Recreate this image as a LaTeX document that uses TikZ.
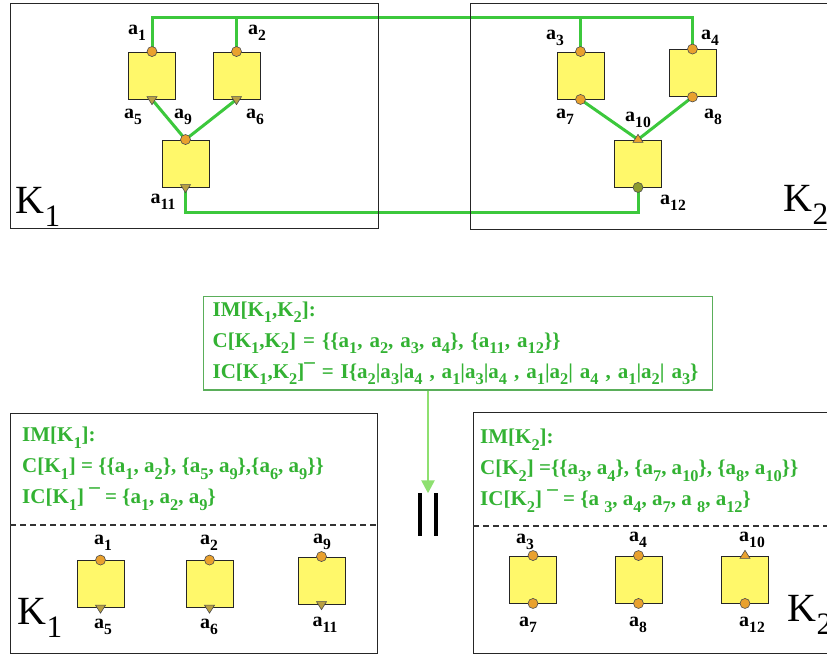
\documentclass[tikz,border=0pt]{standalone}
\usepackage{graphicx}
\usepackage{fontspec}
\setmainfont{Liberation Serif}
\usepackage{tikz}
\usetikzlibrary{shapes.geometric, arrows.meta, positioning, calc, backgrounds}
\definecolor{wiregreen}{HTML}{3CC83C}
\definecolor{textgreen}{HTML}{33B233}
\definecolor{boxgreen}{HTML}{5AAE5A}
\definecolor{arrowgreen}{HTML}{8EE070}
\definecolor{compyellow}{HTML}{FFF86A}
\definecolor{portorange}{HTML}{E9A12E}
\definecolor{portolive}{HTML}{B9A043}
\definecolor{portgreen}{HTML}{8C9C2E}
\newcommand{\sbs}[1]{\raisebox{-0.32em}{\scalebox{0.78}{#1}}}
\newcommand{\av}[1]{a\sbs{#1}}

\begin{document}
\begin{tikzpicture}[x=1pt, y=-1pt,
    frame/.style={
        draw=black!85,
        line width=1.3pt,
        inner sep=0pt,
        anchor=north west
    },
    comp/.style={
        draw=black!85,
        fill=compyellow,
        line width=0.9pt,
        minimum width=47pt,
        minimum height=47pt,
        inner sep=0pt
    },
    port/.style={
        circle,
        draw=black!70,
        fill=portorange,
        line width=0.6pt,
        minimum size=10pt,
        inner sep=0pt
    },
    portdown/.style={
        isosceles triangle,
        isosceles triangle stretches,
        shape border rotate=-90,
        draw=black!70,
        fill=portolive,
        line width=0.6pt,
        minimum width=10pt,
        minimum height=8pt,
        inner sep=0pt
    },
    portup/.style={
        portdown,
        shape border rotate=90,
        fill=portorange
    },
    wire/.style={wiregreen, line width=3pt},
    cut/.style={black!80, line width=1.2pt, dash pattern=on 6pt off 4pt},
    lab/.style={font=\fontsize{20}{20}\selectfont\bfseries, inner sep=0pt},
    klab/.style={font=\fontsize{40}{40}\selectfont, inner sep=0pt},
    info/.style={
        text=textgreen,
        font=\fontsize{21}{31}\selectfont\bfseries,
        align=left,
        inner sep=0pt,
        anchor=north west
    },
    flow/.style={arrowgreen, line width=2.5pt, -{Triangle[width=13pt,length=13pt]}},
    bar/.style={black, line width=3.5pt}
]
\useasboundingbox (0,0) rectangle (827,655);

% Top: the two clusters
\node[frame, minimum width=368pt, minimum height=225pt] (K1top) at (10,3) {};
\node[frame, minimum width=362pt, minimum height=226pt] (K2top) at (470,3) {};
\coordinate (busT) at (0,18);
\coordinate (busB) at (0,213);

\node[comp] (A1) at (152,75.5) {};
\node[comp] (A2) at (236.5,75.5) {};
\node[comp] (A3) at (185.5,163.5) {};
\node[comp] (B1) at (580.5,75.5) {};
\node[comp] (B2) at (692.5,73) {};
\node[comp] (B3) at (638,163.5) {};

\node[port] (p1) at (A1.north) {};
\node[portdown] (p5) at (A1.south) {};
\node[port] (p2) at (A2.north) {};
\node[portdown] (p6) at (A2.south) {};
\node[port] (p9) at (A3.north) {};
\node[portdown] (p11) at (A3.south) {};
\node[port] (p3) at (B1.north) {};
\node[port] (p7) at (B1.south) {};
\node[port] (p4) at (B2.north) {};
\node[port] (p8) at (B2.south) {};
\node[portup] (p10) at (B3.north) {};
\node[port, fill=portgreen] (p12) at (B3.south) {};

\begin{scope}[on background layer]
\draw[wire] (p1.center) -- (p1.center |- busT) -- (p4.center |- busT) -- (p4.center);
\draw[wire] (p2.center) -- (p2.center |- busT);
\draw[wire] (p3.center) -- (p3.center |- busT);
\draw[wire] (p5.center) -- (p9.center) -- (p6.center);
\draw[wire] (p7.center) -- (p10.center) -- (p8.center);
\draw[wire] (p11.center) -- (p11.center |- busB) -- (p12.center |- busB) -- (p12.center);
\end{scope}

\node[lab] (l1) at (137,33) {\av{1}};
\node[lab] (l2) at (257,33) {\av{2}};
\node[lab] (l5) at (133,117) {\av{5}};
\node[lab] (l9) at (183,117) {\av{9}};
\node[lab] (l6) at (255,117) {\av{6}};
\node[lab] (l11) at (163,202) {\av{11}};
\node[lab] (l3) at (555,38) {\av{3}};
\node[lab] (l4) at (710,38) {\av{4}};
\node[lab] (l7) at (565,117) {\av{7}};
\node[lab] (l10) at (638,120) {\av{10}};
\node[lab] (l8) at (713,117) {\av{8}};
\node[lab] (l12) at (673,203) {\av{12}};
\node[klab] (k1t) at (38,207) {K\sbs{1}};
\node[klab] (k2t) at (806,205) {K\sbs{2}};

% Middle: interface of K1 and K2
\node[info, draw=boxgreen, line width=1.3pt, text width=491pt, inner xsep=9pt, inner ysep=5pt] (imk12) at (203,296)
    {IM[K\sbs{1},K\sbs{2}]:\\
     C[K\sbs{1},K\sbs{2}] = \{\{a\sbs{1}, a\sbs{2}, a\sbs{3}, a\sbs{4}\}, \{a\sbs{11}, a\sbs{12}\}\}\\
     IC[K\sbs{1},K\sbs{2}]¯ = I\{a\sbs{2}|a\sbs{3}|a\sbs{4} , a\sbs{1}|a\sbs{3}|a\sbs{4} , a\sbs{1}|a\sbs{2}| a\sbs{4} , a\sbs{1}|a\sbs{2}| a\sbs{3}\}};
\node[inner sep=0pt, minimum width=16pt, minimum height=42pt] (eq) at (428,514.5) {};
\draw[flow] (eq.north |- imk12.south) -- (eq.north);
\draw[bar] (eq.north west) -- (eq.south west);
\draw[bar] (eq.north east) -- (eq.south east);

% Bottom: each cluster on its own
\node[frame, minimum width=367pt, minimum height=240pt] (K1low) at (10,413) {};
\node[frame, minimum width=362pt, minimum height=241pt] (K2low) at (473,412) {};
\coordinate (cutL) at (0,525);
\coordinate (cutR) at (0,526);
\draw[cut] (K1low.west |- cutL) -- (K1low.east |- cutL);
\draw[cut] (K2low.west |- cutR) -- (K2low.east |- cutR);

\node[info] (imk1) at (22,427)
    {IM[K\sbs{1}]:\\
     C[K\sbs{1}] = \{\{a\sbs{1}, a\sbs{2}\}, \{a\sbs{5}, a\sbs{9}\},\{a\sbs{6}, a\sbs{9}\}\}\\
     IC[K\sbs{1}] ¯ = \{a\sbs{1}, a\sbs{2}, a\sbs{9}\}};
\node[info] (imk2) at (480,429)
    {IM[K\sbs{2}]:\\
     C[K\sbs{2}] =\{\{a\sbs{3}, a\sbs{4}\}, \{a\sbs{7}, a\sbs{10}\}, \{a\sbs{8}, a\sbs{10}\}\}\\
     IC[K\sbs{2}] ¯ = \{a \sbs{3}, a\sbs{4}, a\sbs{7}, a \sbs{8}, a\sbs{12}\}};

\node[comp] (C1) at (100.5,584) {};
\node[comp] (C2) at (209.5,584) {};
\node[comp] (C3) at (321.5,580.5) {};
\node[comp] (D1) at (533,579.5) {};
\node[comp] (D2) at (638.5,579.5) {};
\node[comp] (D3) at (745,579.5) {};

\node[port] (q1) at (C1.north) {};
\node[portdown] (q5) at (C1.south) {};
\node[port] (q2) at (C2.north) {};
\node[portdown] (q6) at (C2.south) {};
\node[port] (q9) at (C3.north) {};
\node[portdown] (q11) at (C3.south) {};
\node[port] (q3) at (D1.north) {};
\node[port] (q7) at (D1.south) {};
\node[port] (q4) at (D2.north) {};
\node[port] (q8) at (D2.south) {};
\node[portup] (q10) at (D3.north) {};
\node[port] (q12) at (D3.south) {};

\node[lab] (m1) at (103,543) {\av{1}};
\node[lab] (m5) at (103,627) {\av{5}};
\node[lab] (m2) at (209,543) {\av{2}};
\node[lab] (m6) at (209,627) {\av{6}};
\node[lab] (m9) at (322,542) {\av{9}};
\node[lab] (m11) at (325,625) {\av{11}};
\node[lab] (m3) at (525,542) {\av{3}};
\node[lab] (m7) at (528,625) {\av{7}};
\node[lab] (m4) at (638,540) {\av{4}};
\node[lab] (m8) at (638,625) {\av{8}};
\node[lab] (m10) at (752,540) {\av{10}};
\node[lab] (m12) at (752,625) {\av{12}};
\node[klab] (k1l) at (40,618) {K\sbs{1}};
\node[klab] (k2l) at (810,615) {K\sbs{2}};

\end{tikzpicture}
\end{document}
